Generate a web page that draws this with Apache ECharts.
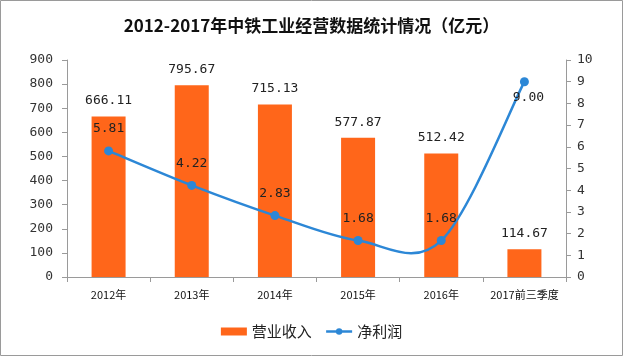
<!DOCTYPE html>
<html><head><meta charset="utf-8">
<script src="https://cdn.jsdelivr.net/npm/echarts@6/dist/echarts.min.js"></script>
<style>html,body{margin:0;padding:0;background:#fff}#c{width:623px;height:356px}</style>
</head><body><div id="c"></div>
<script>
const categories = ['2012年','2013年','2014年','2015年','2016年','2017前三季度'];
const revenue = [666.11, 795.67, 715.13, 577.87, 512.42, 114.67];
const profit = [5.81, 4.22, 2.83, 1.68, 1.68, 9.00];
const leftTicks = {min:0, max:900, interval:100};
const rightTicks = {min:0, max:10, interval:1};

const BLUE = '#2C87D6';
const chart = echarts.init(document.getElementById('c'));
const mono = 'DejaVu Sans Mono, monospace';
const axisLine = {show:true, lineStyle:{color:'#9a9a9a', width:1}};
const axisTick = {show:true, length:5, lineStyle:{color:'#9a9a9a'}};

// Excel-style smoothed curve segment drawn through the axis scales
function renderCurve(params, api){
  const n = profit.length;
  const i = params.dataIndex;
  if (i >= n - 1) return {type:'group', children:[]};
  const P = j => api.coord([Math.max(0, Math.min(n-1, j)), profit[Math.max(0, Math.min(n-1, j))]]);
  const p0 = P(i-1), p1 = P(i), p2 = P(i+1), p3 = P(i+2);
  return {
    type:'bezierCurve',
    shape:{x1:p1[0], y1:p1[1], x2:p2[0], y2:p2[1],
      cpx1:p1[0] + (p2[0]-p0[0])/6, cpy1:p1[1] + (p2[1]-p0[1])/6,
      cpx2:p2[0] - (p3[0]-p1[0])/6, cpy2:p2[1] - (p3[1]-p1[1])/6},
    style:{stroke:BLUE, lineWidth:2.5, fill:null}
  };
}

chart.setOption({
  animation:false,
  backgroundColor:'#fff',
  graphic:[{type:'rect', z:100, shape:{x:0.5,y:0.5,width:622,height:355}, style:{fill:'none', stroke:'#9a9a9a', lineWidth:1}}],
  title:{text:'2012-2017年中铁工业经营数据统计情况（亿元）', left:'center', top:12,
    textStyle:{fontSize:17, fontWeight:'bold', color:'#111', fontFamily:'Noto Sans CJK SC'}},
  legend:{bottom:12, left:'center', itemGap:13, itemWidth:26, itemHeight:8,
    textStyle:{fontSize:15, color:'#222', fontFamily:'Noto Sans CJK SC'},
    data:[{name:'营业收入', icon:'rect'},
          {name:'净利润', lineStyle:{color:BLUE, width:2.5, opacity:1}, itemStyle:{color:BLUE}}]},
  grid:{left:67, right:57, top:60, bottom:79},
  xAxis:{type:'category', data:categories, boundaryGap:true,
    axisLine:axisLine, axisTick:axisTick,
    axisLabel:{interval:0, fontSize:11, color:'#111', margin:12, fontFamily:'Noto Sans CJK SC'}},
  yAxis:[
    {type:'value', min:leftTicks.min, max:leftTicks.max, interval:leftTicks.interval,
      axisLine:axisLine, axisTick:axisTick, splitLine:{show:false},
      axisLabel:{fontSize:13, color:'#333', fontFamily:mono, margin:14}},
    {type:'value', min:rightTicks.min, max:rightTicks.max, interval:rightTicks.interval,
      axisLine:axisLine, axisTick:axisTick, splitLine:{show:false},
      axisLabel:{fontSize:13, color:'#333', fontFamily:mono, margin:11}}
  ],
  series:[
    {name:'营业收入', type:'bar', data:revenue, barWidth:34, yAxisIndex:0,
      itemStyle:{color:'#FF661A'},
      label:{show:true, position:'top', distance:9, fontSize:13, color:'#222', fontFamily:mono,
        formatter:p=>p.value.toFixed(2)}},
    {name:'curve', type:'custom', yAxisIndex:1, silent:true, z:3,
      data:profit.map((v,i)=>[i,v]), encode:{x:0, y:1}, renderItem:renderCurve},
    {name:'净利润', type:'line', z:4,
      data:profit.map((v,i)=> i===profit.length-1 ? {value:v, label:{position:'bottom', distance:5, offset:[4,0]}} : v),
      yAxisIndex:1, symbol:'circle', symbolSize:9,
      lineStyle:{color:BLUE, width:2.5, opacity:0}, itemStyle:{color:BLUE},
      label:{show:true, position:'top', distance:11, fontSize:13, color:'#222', fontFamily:mono,
        formatter:p=>p.value.toFixed(2)}}
  ]
});
</script></body></html>
